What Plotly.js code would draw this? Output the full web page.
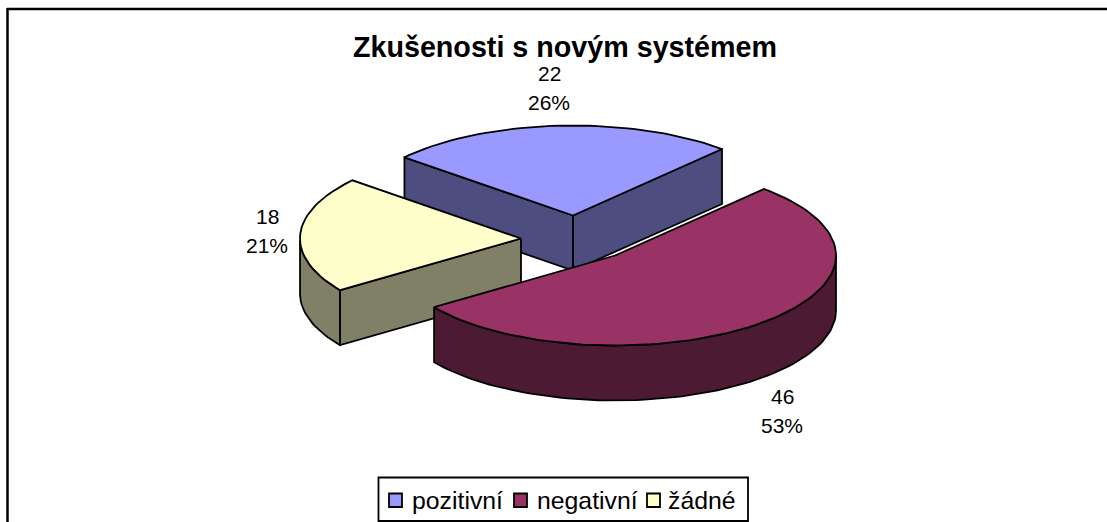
<!DOCTYPE html>
<html><head><meta charset="utf-8">
<script src="https://cdn.plot.ly/plotly-3.0.1.min.js"></script>
<style>html,body{margin:0;padding:0;background:#fff;overflow:hidden}#c{width:1107px;height:522px}</style>
</head><body><div id="c"></div>
<script>
const categories = ['pozitivní', 'negativní', 'žádné'];
const values = [22, 46, 18];
const chartTitle = 'Zkušenosti s novým systémem';
const topColors = ['#9999FF', '#993366', '#FFFFCC'];
const sideColors = ['#4D4D80', '#4D1A33', '#808066'];

// 3-D pie projection (pixel space)
const W = 1107, H = 522, FONT = '"Liberation Sans", Arial, sans-serif';
const A = 221, B = 90, DEPTH = 55, START = 139.7;
const centers = [[573, 215.5], [615, 255.5], [521, 238.5]];
const labelPos = [[549, 73.5], [782, 396.5], [267, 216.5]];
const LINE_GAP = 29;
const drawOrder = [0, 2, 1];
const legendSwatchX = [389, 514, 647];
const legendTextX = [412, 537, 668];

const total = values.reduce((a, b) => a + b, 0);
const rad = d => d * Math.PI / 180;
const traces = [];
const annotations = [];
const startAngles = [];
let ang = START;
values.forEach(v => { startAngles.push(ang); ang -= v / total * 360; });

drawOrder.forEach(i => {
  const v = values[i];
  const s = startAngles[i], e = s - v / total * 360;
  const [cx, cy] = centers[i];
  const pt = (d, dz) => [cx + A * Math.cos(rad(d)), cy - B * Math.sin(rad(d)) + dz];
  const sx = [], sy = [];
  const addPoly = poly => { poly.forEach(p => { sx.push(p[0]); sy.push(p[1]); }); sx.push(poly[0][0], null); sy.push(poly[0][1], null); };
  if (Math.cos(rad(s)) < 0) addPoly([[cx, cy], pt(s, 0), pt(s, DEPTH), [cx, cy + DEPTH]]);
  if (Math.cos(rad(e)) > 0) addPoly([[cx, cy], pt(e, 0), pt(e, DEPTH), [cx, cy + DEPTH]]);
  const front = [];
  for (let d = s; d >= e - 1e-6; d -= 2) { if (Math.sin(rad(d)) <= 0) front.push(d); }
  if (Math.sin(rad(e)) <= 0) front.push(e);
  if (front.length > 1) {
    addPoly(front.map(d => pt(d, 0)).concat(front.slice().reverse().map(d => pt(d, DEPTH))));
  }
  traces.push({ type: 'scatter', mode: 'lines', x: sx, y: sy, fill: 'toself', fillcolor: sideColors[i],
    line: { color: '#000', width: 1.8 }, showlegend: false, hoverinfo: 'skip' });
  const tx = [cx], ty = [cy];
  for (let d = s; d > e; d -= 2) { const p = pt(d, 0); tx.push(p[0]); ty.push(p[1]); }
  const pe = pt(e, 0); tx.push(pe[0], cx); ty.push(pe[1], cy);
  traces.push({ type: 'scatter', mode: 'lines', x: tx, y: ty, fill: 'toself', fillcolor: topColors[i],
    line: { color: '#000', width: 1.8 }, showlegend: false, hoverinfo: 'text', text: categories[i] });
});

values.forEach((v, i) => {
  const [lx, ly] = labelPos[i];
  [String(v), Math.round(v / total * 100) + '%'].forEach((t, k) => annotations.push({
    x: lx, y: ly + k * LINE_GAP, xref: 'x', yref: 'y', text: t, showarrow: false,
    xanchor: 'center', yanchor: 'middle', font: { family: FONT, size: 21, color: '#000' } }));
});

const shapes = [
  { type: 'line', xref: 'x', yref: 'y', x0: 7, x1: W, y0: 9, y1: 9, line: { color: '#000', width: 2.5 } },
  { type: 'line', xref: 'x', yref: 'y', x0: 7.5, x1: 7.5, y0: 8, y1: H, line: { color: '#000', width: 2.5 } },
  { type: 'rect', xref: 'x', yref: 'y', x0: 378.5, x1: 748, y0: 477.5, y1: 521, fillcolor: '#fff', line: { color: '#000', width: 1.8 } }
];
categories.forEach((c, i) => {
  shapes.push({ type: 'rect', xref: 'x', yref: 'y', x0: legendSwatchX[i], x1: legendSwatchX[i] + 13, y0: 493.5, y1: 507,
    fillcolor: topColors[i], line: { color: '#000', width: 1.8 } });
  annotations.push({ x: legendTextX[i], y: 500, xref: 'x', yref: 'y', text: c, showarrow: false,
    xanchor: 'left', yanchor: 'middle', xshift: -2, font: { family: FONT, size: 24.8, color: '#000' } });
});

Plotly.newPlot('c', traces, {
  width: W, height: H, margin: { l: 0, r: 0, t: 0, b: 0 }, paper_bgcolor: '#fff', plot_bgcolor: '#fff',
  xaxis: { range: [0, W], visible: false, fixedrange: true },
  yaxis: { range: [H, 0], visible: false, fixedrange: true },
  title: { text: '<b>' + chartTitle + '</b>', x: 565 / W, xanchor: 'center', xref: 'paper',
    y: 1 - 47 / H, yanchor: 'middle', yref: 'container', font: { family: FONT, size: 28.7, color: '#000' } },
  annotations, shapes, showlegend: false
}, { displayModeBar: false, staticPlot: true });
</script></body></html>
